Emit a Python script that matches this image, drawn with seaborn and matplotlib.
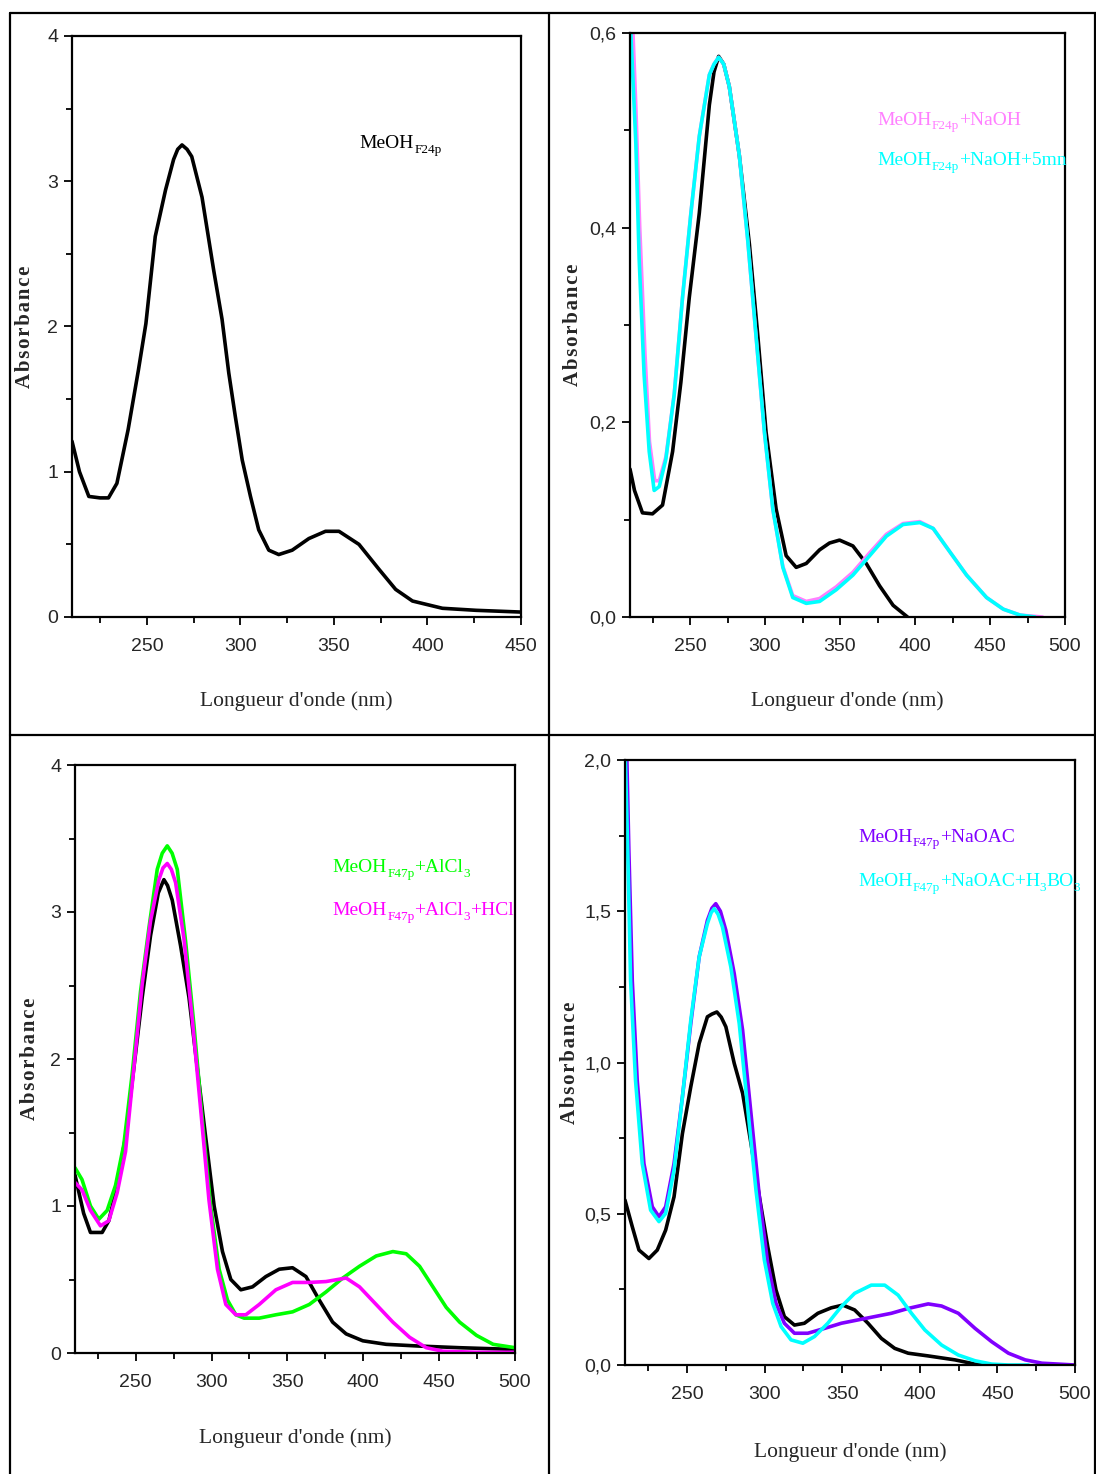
import numpy as np
import pandas as pd
import seaborn as sns
import matplotlib.pyplot as plt
from matplotlib.lines import Line2D
from matplotlib.ticker import MultipleLocator, FuncFormatter

sns.set_style("ticks")
plt.rcParams['font.family'] = ['Liberation Serif', 'DejaVu Serif']

# ---- panel 1 : MeOH F24p ----
wl_a = [210, 214, 219, 225, 229.5, 234, 240, 245.5, 249.5, 254.5, 260, 264.3, 266.5, 268.8, 271.5,
        274, 279.5, 285.7, 290.2, 293.8, 297.3, 301, 305.4, 309.8, 315.2, 320.5, 327.7, 336.6,
        345.5, 352.7, 363.4, 374, 383, 392, 408, 426, 450]
abs_a = [1.21, 1.0, 0.83, 0.82, 0.82, 0.92, 1.29, 1.70, 2.02, 2.62, 2.94, 3.15, 3.22, 3.25, 3.22,
         3.17, 2.89, 2.39, 2.05, 1.68, 1.38, 1.08, 0.83, 0.60, 0.46, 0.43, 0.46, 0.54,
         0.59, 0.59, 0.50, 0.33, 0.19, 0.11, 0.06, 0.046, 0.034]

# ---- panel 2 : NaOH shift ----
wl_b_ref = [210, 213, 218.3, 225, 231.7, 238.4, 243.9, 249.5, 256.2, 262.9, 266, 269.1, 272.5, 276.2,
            282.9, 289.6, 295.2, 300.7, 307.4, 314.1, 320.8, 327.5, 336.4, 343, 349.7, 358.6, 367.5,
            376.4, 385.4, 395]
abs_b_ref = [0.152, 0.13, 0.107, 0.106, 0.115, 0.170, 0.241, 0.328, 0.415, 0.526, 0.56, 0.576, 0.568,
             0.545, 0.474, 0.383, 0.289, 0.190, 0.111, 0.063, 0.051, 0.055, 0.069, 0.076, 0.079,
             0.073, 0.055, 0.032, 0.012, 0.0]
wl_b_naoh = [211.5, 214, 216.5, 220, 223, 226.5, 229.5, 234, 239.5, 245, 250.6, 256.2, 262.9, 266,
             269.1, 272.5, 276.2, 282.9, 288.5, 294, 299.6, 305.2, 311.9, 318.5, 327.5, 336.4, 347.5,
             358.6, 369.8, 380.9, 392, 403.2, 412.1, 423.2, 434.4, 447.7, 458.9, 470, 485]
abs_b_naoh = [0.62, 0.52, 0.40, 0.27, 0.18, 0.14, 0.14, 0.165, 0.229, 0.328, 0.415, 0.494, 0.557,
              0.568, 0.575, 0.568, 0.545, 0.474, 0.387, 0.289, 0.190, 0.111, 0.052, 0.022, 0.016,
              0.019, 0.031, 0.046, 0.066, 0.085, 0.096, 0.098, 0.091, 0.067, 0.043, 0.020, 0.008,
              0.002, 0.0]
wl_b_5mn = [210, 213.9, 216.1, 219.4, 222.8, 226.1, 229.5, 233.9, 239.5, 245, 250.6, 256.2, 262.9,
            266, 269.1, 272.5, 276.2, 282.9, 288.5, 294, 299.6, 305.2, 311.9, 318.5, 327.5, 336.4,
            347.5, 358.6, 369.8, 380.9, 392, 403.2, 412.1, 423.2, 434.4, 447.7, 458.9, 470, 480]
abs_b_5mn = [0.62, 0.486, 0.368, 0.249, 0.170, 0.130, 0.134, 0.162, 0.229, 0.328, 0.415, 0.494,
             0.557, 0.568, 0.575, 0.568, 0.545, 0.474, 0.387, 0.289, 0.190, 0.111, 0.051, 0.020,
             0.014, 0.016, 0.028, 0.043, 0.063, 0.083, 0.095, 0.097, 0.091, 0.067, 0.043, 0.020,
             0.008, 0.002, 0.0]

# ---- panel 3 : AlCl3 shift ----
wl_c_ref = [210, 215.7, 220.2, 227.9, 232.3, 237.8, 243.3, 248.8, 254.3, 259.8, 264.9, 268.6, 271,
            274.1, 279.6, 285.1, 290.6, 296.1, 301.7, 307.2, 312.7, 319.3, 327, 335.8, 344.6, 353.4,
            362.2, 371, 379.8, 388.7, 399.7, 415.1, 437.1, 463.5, 500]
abs_c_ref = [1.21, 0.95, 0.82, 0.82, 0.90, 1.14, 1.47, 1.94, 2.42, 2.84, 3.13, 3.22, 3.18,
             3.08, 2.77, 2.42, 1.94, 1.47, 1.00, 0.69, 0.50, 0.43, 0.45, 0.52, 0.57, 0.58,
             0.52, 0.36, 0.21, 0.13, 0.083, 0.059, 0.047, 0.036, 0.024]
wl_c_alcl3 = [210, 214.6, 220.2, 225.7, 231.2, 236.7, 242.2, 247.7, 253.2, 258.7, 264.2, 267.5, 270.8,
              274, 277.4, 282.9, 288.4, 293.9, 299.4, 305, 310.5, 316, 321.5, 331.4, 342.4, 353.4,
              364.4, 375.4, 386.5, 397.5, 408.5, 419.5, 428.3, 437.1, 445.9, 454.7, 463.5, 474.6,
              485.6, 500]
abs_c_alcl3 = [1.26, 1.18, 1.0, 0.91, 0.97, 1.14, 1.42, 1.90, 2.46, 2.89, 3.29, 3.40, 3.45,
               3.40, 3.29, 2.80, 2.23, 1.59, 1.00, 0.57, 0.36, 0.26, 0.237, 0.237, 0.26, 0.28,
               0.33, 0.415, 0.51, 0.59, 0.66, 0.69, 0.675, 0.59, 0.45, 0.31, 0.21, 0.12, 0.059,
               0.036]
wl_c_hcl = [210, 214.6, 220.2, 226.8, 232.3, 237.8, 243.3, 248.8, 254.3, 259.8, 265.3, 268, 270.8,
            273.5, 276.3, 281.8, 287.3, 292.8, 298.3, 303.9, 309.4, 316, 322.6, 331.4, 342.4, 353.4,
            364.4, 375.4, 388.7, 397.5, 408.5, 419.5, 430.5, 441.5, 452.5, 474.6, 500]
abs_c_hcl = [1.16, 1.11, 0.97, 0.865, 0.90, 1.09, 1.37, 1.94, 2.51, 2.94, 3.22, 3.30, 3.33,
             3.29, 3.20, 2.82, 2.27, 1.66, 1.04, 0.57, 0.33, 0.26, 0.26, 0.33, 0.43, 0.48, 0.48,
             0.486, 0.51, 0.45, 0.33, 0.21, 0.107, 0.036, 0.012, 0.005, 0.005]

# ---- panel 4 : NaOAC shift ----
wl_d_ref = [210, 214.7, 219, 225.4, 230.8, 236.2, 241.6, 247, 252.4, 257.8, 263.1, 266, 269.2, 272,
            275, 280.4, 285.8, 291.2, 296.6, 302, 307.3, 312.7, 319.2, 325.6, 334.3, 342.9, 350.4,
            358, 366.6, 375.2, 383.8, 392.5, 405.4, 422.6, 435.6, 445]
abs_d_ref = [0.545, 0.457, 0.38, 0.352, 0.38, 0.446, 0.556, 0.765, 0.92, 1.063, 1.151, 1.16, 1.167,
             1.15, 1.118, 0.997, 0.898, 0.732, 0.556, 0.391, 0.248, 0.16, 0.132, 0.138, 0.171,
             0.189, 0.198, 0.182, 0.138, 0.088, 0.055, 0.039, 0.030, 0.017, 0.003, 0.0]
wl_d_naoac = [211, 212.5, 214.7, 217.9, 222.2, 227.6, 231.9, 236.2, 241.6, 247, 252.4, 257.8, 263.1,
              266, 268.5, 271.5, 275, 280.4, 285.8, 291.2, 296.6, 302, 307.3, 312.7, 319.2, 327.8,
              338.6, 349.4, 360.1, 370.9, 381.7, 392.5, 405.4, 414, 424.8, 435.6, 446.3, 457.1,
              467.9, 478.7, 500]
abs_d_naoac = [2.05, 1.7, 1.27, 0.94, 0.666, 0.523, 0.49, 0.523, 0.666, 0.886, 1.129, 1.349, 1.47,
               1.51, 1.525, 1.50, 1.437, 1.294, 1.107, 0.831, 0.556, 0.336, 0.204, 0.138, 0.105,
               0.105, 0.121, 0.138, 0.149, 0.16, 0.171, 0.187, 0.202, 0.195, 0.171, 0.121, 0.077,
               0.039, 0.017, 0.006, 0.0]
wl_d_boric = [210, 212, 213.6, 216.8, 221.1, 226.5, 231.9, 236.2, 241.6, 247, 252.4, 257.8, 263.1,
              265.5, 267.5, 270, 272.8, 278.2, 283.6, 289, 294.4, 299.8, 305.2, 310.6, 317, 324.6,
              332.1, 340.7, 349.4, 358, 368.7, 377.4, 386, 394.6, 403.2, 414, 424.8, 435.6, 446.3,
              457.1, 470]
abs_d_boric = [2.05, 1.65, 1.27, 0.94, 0.666, 0.512, 0.474, 0.501, 0.644, 0.886, 1.14, 1.349, 1.459,
               1.495, 1.509, 1.49, 1.448, 1.316, 1.129, 0.853, 0.578, 0.347, 0.204, 0.127, 0.083,
               0.072, 0.094, 0.138, 0.193, 0.237, 0.264, 0.264, 0.231, 0.171, 0.116, 0.066, 0.033,
               0.014, 0.003, 0.0, 0.0]

BLACK = "black"
PINK = "#ff80ff"
CYAN = "#00ffff"
GREEN = "#00ff00"
MAGENTA = "#ff00ff"
VIOLET = "#8000ff"

W, H = 1096, 1474
fig = plt.figure(figsize=(W / 100, H / 100), dpi=100)


def px_axes(left, top, right, bottom):
    return fig.add_axes([left / W, 1 - bottom / H, (right - left) / W, (bottom - top) / H])


def comma(v, nd):
    return f"{v:.{nd}f}".replace(".", ",") if nd else f"{v:.0f}"


def style(ax, xmax, ymax, ymajor, yminor, nd, ylab_x):
    ax.set_xlim(210, xmax)
    ax.set_ylim(0, ymax)
    ax.xaxis.set_major_locator(MultipleLocator(50))
    ax.xaxis.set_minor_locator(MultipleLocator(25))
    ax.yaxis.set_major_locator(MultipleLocator(ymajor))
    ax.yaxis.set_minor_locator(MultipleLocator(yminor))
    ax.yaxis.set_major_formatter(FuncFormatter(lambda v, p: comma(v, nd)))
    for s in ax.spines.values():
        s.set_visible(True)
        s.set_linewidth(1.6)
        s.set_color("black")
    ax.tick_params(which="major", direction="out", length=6, width=1.3, color="black")
    ax.tick_params(which="minor", direction="out", length=4, width=1.3, color="black")
    ax.tick_params(axis="x", which="major", pad=9)
    ax.tick_params(axis="y", which="major", pad=4)
    for lab in ax.get_xticklabels() + ax.get_yticklabels():
        lab.set_family(['Liberation Sans Narrow', 'Liberation Sans'])
        lab.set_fontsize(14)
    ax.set_xlabel("Longueur d'onde (nm)", fontsize=15.5)
    ax.set_ylabel("\u200a".join("Absorbance"), fontsize=15, fontweight="bold")
    ax.xaxis.set_label_coords(0.5, -0.128)
    ax.yaxis.set_label_coords(ylab_x, 0.5)
    ax.set_facecolor("white")


def draw(ax, x, y, color):
    sns.lineplot(x=x, y=y, ax=ax, color=color, linewidth=2.6, sort=False, estimator=None,
                 solid_joinstyle="round", solid_capstyle="round")


def chem(ax, x, y, parts, color, size=14):
    # parts: (text, is_subscript); subscripts hang below the main baseline
    base = ax.text(x, y, parts[0][0], transform=ax.transAxes, fontsize=size, color=color,
                   va="bottom")
    prev = base
    for s, sub in parts[1:]:
        if sub:
            prev = ax.annotate(s, xy=(1, 0), xycoords=(prev, base), xytext=(0, -2.5),
                               textcoords="offset points", fontsize=size * 0.68, color=color,
                               va="bottom")
        else:
            prev = ax.annotate(s, xy=(1, 0), xycoords=(prev, base), fontsize=size, color=color,
                               va="bottom")


# panel A
ax1 = px_axes(72, 36, 521, 617)
draw(ax1, wl_a, abs_a, BLACK)
style(ax1, 450, 4, 1, 0.5, 0, -0.082)
chem(ax1, 0.641, 0.80, [("MeOH", False), ("F24p", True)], BLACK)

# panel B
ax2 = px_axes(630, 33, 1065, 617)
draw(ax2, wl_b_ref, abs_b_ref, BLACK)
draw(ax2, wl_b_naoh, abs_b_naoh, PINK)
draw(ax2, wl_b_5mn, abs_b_5mn, CYAN)
style(ax2, 500, 0.6, 0.2, 0.1, 1, -0.108)
chem(ax2, 0.568, 0.836, [("MeOH", False), ("F24p", True), ("+NaOH", False)], PINK)
chem(ax2, 0.568, 0.767, [("MeOH", False), ("F24p", True), ("+NaOH+5mn", False)], CYAN)

# panel C
ax3 = px_axes(75, 765, 515, 1353)
draw(ax3, wl_c_ref, abs_c_ref, BLACK)
draw(ax3, wl_c_alcl3, abs_c_alcl3, GREEN)
draw(ax3, wl_c_hcl, abs_c_hcl, MAGENTA)
style(ax3, 500, 4, 1, 0.5, 0, -0.08)
chem(ax3, 0.586, 0.811, [("MeOH", False), ("F47p", True), ("+AlCl", False), ("3", True)], GREEN)
chem(ax3, 0.586, 0.738, [("MeOH", False), ("F47p", True), ("+AlCl", False), ("3", True),
                         ("+HCl", False)], MAGENTA)

# panel D
ax4 = px_axes(625, 760, 1075, 1365)
draw(ax4, wl_d_ref, abs_d_ref, BLACK)
draw(ax4, wl_d_naoac, abs_d_naoac, VIOLET)
draw(ax4, wl_d_boric, abs_d_boric, CYAN)
style(ax4, 500, 2.0, 0.5, 0.25, 1, -0.1)
chem(ax4, 0.518, 0.858, [("MeOH", False), ("F47p", True), ("+NaOAC", False)], VIOLET)
chem(ax4, 0.518, 0.785, [("MeOH", False), ("F47p", True), ("+NaOAC+H", False), ("3", True),
                         ("BO", False), ("3", True)], CYAN)

# table frame around the four panels
for (x0, y0, x1, y1) in [(10, 13, 1096, 13), (10, 13, 10, 1474), (1095, 13, 1095, 1474),
                         (549, 13, 549, 1474), (10, 735, 1096, 735)]:
    fig.add_artist(Line2D([x0 / W, x1 / W], [1 - y0 / H, 1 - y1 / H], color="black", linewidth=1.6))

fig.savefig("out.png", dpi=100, facecolor="white")
